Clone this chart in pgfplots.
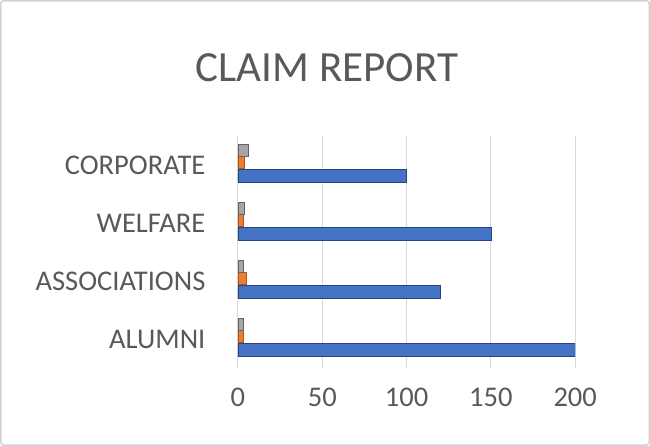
\documentclass[border=0pt]{standalone}
\usepackage{pgfplots}
\pgfplotsset{compat=1.18}
\usepackage{fontspec}
\setmainfont{Carlito}
\definecolor{txt}{HTML}{595959}
\definecolor{sblue}{HTML}{4472C4}
\definecolor{sorange}{HTML}{ED7D31}
\definecolor{sgray}{HTML}{A5A5A5}
\begin{document}
\begin{tikzpicture}
\draw[gray!35, line width=1.5pt, rounded corners=3pt] (1pt,-1pt) rectangle (649pt,-445pt);
\node[text=txt, font=\fontsize{43}{50}\selectfont, anchor=base] at (327pt,-82pt) {CLAIM REPORT};
\begin{axis}[at={(238pt,-368pt)}, anchor=south west, scale only axis,
  width=337pt, height=232pt,
  xmin=0, xmax=200, ymin=-0.5, ymax=3.5, xbar,
  xtick={0,50,100,150,200}, ytick={0,1,2,3},
  yticklabels={ALUMNI, ASSOCIATIONS, WELFARE, CORPORATE},
  xmajorgrids, major grid style={gray!30, line width=1pt},
  axis line style={draw=none}, major tick length=0pt,
  tick label style={text=txt, font=\fontsize{28.5}{32}\selectfont},
  xticklabel style={yshift=-16pt},
  yticklabel style={xshift=-29pt},
  /pgf/number format/assume math mode=true,
  ]
\addplot[fill=sblue, draw=sblue!60!black, bar width=13pt, bar shift=-11pt]
  coordinates {(200,0) (120,1) (150,2) (100,3)};
\addplot[fill=sorange, draw=sorange!70!black, bar width=12pt, bar shift=2.5pt]
  coordinates {(3,0) (5,1) (3,2) (4,3)};
\addplot[fill=sgray, draw=sgray!60!black, bar width=12pt, bar shift=14.5pt]
  coordinates {(3,0) (3,1) (4,2) (6,3)};
\end{axis}
\end{tikzpicture}
\end{document}
